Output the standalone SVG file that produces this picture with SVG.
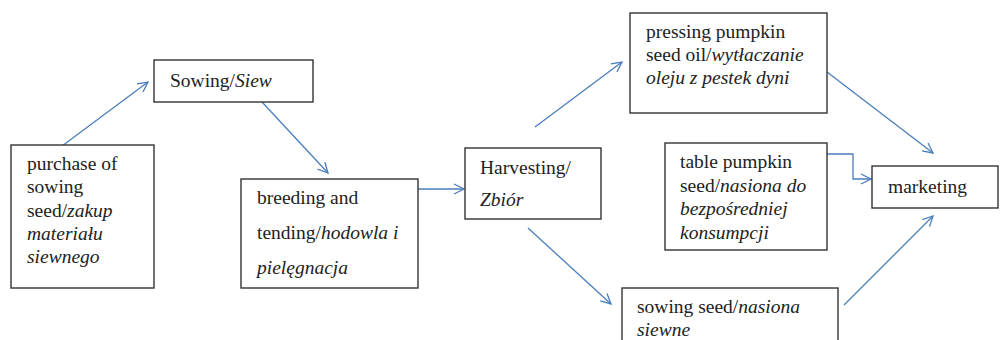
<svg xmlns="http://www.w3.org/2000/svg" width="1002" height="340" viewBox="0 0 1002 340">
<defs>
<marker id="ah" viewBox="0 0 12 12" refX="11" refY="6" markerWidth="12" markerHeight="12" markerUnits="userSpaceOnUse" orient="auto">
<path d="M1,1 L11,6 L1,11" fill="none" stroke="#4a7ebb" stroke-width="1.3"/>
</marker>
<style>
.box{fill:#fff;stroke:#333;stroke-width:1.4}
.t{font-family:'Liberation Serif','Times New Roman','DejaVu Serif',Times,serif;font-size:19.5px;fill:#222}
.i{font-style:italic}
.c{fill:none;stroke:#4a7ebb;stroke-width:1.3;marker-end:url(#ah)}
</style>
</defs>
<rect width="1002" height="340" fill="#fff"/>
<g id="connectors">
<line class="c" x1="62" y1="146" x2="148" y2="82"/>
<line class="c" x1="262" y1="102" x2="328" y2="173"/>
<line class="c" x1="418" y1="189" x2="464" y2="189"/>
<line class="c" x1="535" y1="127" x2="622" y2="62"/>
<line class="c" x1="528" y1="228" x2="611" y2="304"/>
<line class="c" x1="827" y1="72" x2="933" y2="153"/>
<polyline class="c" points="827,154 853,154 853,179 871,179"/>
<line class="c" x1="844" y1="305" x2="933" y2="216"/>
</g>
<g id="purchase">
<rect class="box" x="11" y="145" width="143" height="143"/>
<text class="t" font-family="Liberation Serif, serif" x="27" y="170">purchase of</text>
<text class="t" x="27" y="193">sowing</text>
<text class="t" x="27" y="217">seed/<tspan class="i">zakup</tspan></text>
<text class="t i" x="27" y="240">materiału</text>
<text class="t i" x="27" y="263">siewnego</text>
</g>
<g id="sowing">
<rect class="box" x="154" y="60" width="159" height="42"/>
<text class="t" x="170" y="87">Sowing/<tspan class="i">Siew</tspan></text>
</g>
<g id="breeding">
<rect class="box" x="241" y="179" width="177" height="109"/>
<text class="t" x="257" y="204">breeding and</text>
<text class="t" x="257" y="239">tending/<tspan class="i">hodowla i</tspan></text>
<text class="t i" x="257" y="274">pielęgnacja</text>
</g>
<g id="harvesting">
<rect class="box" x="465" y="148" width="136" height="71"/>
<text class="t" x="480" y="174">Harvesting/</text>
<text class="t i" x="480" y="206">Zbiór</text>
</g>
<g id="pressing">
<rect class="box" x="630" y="13" width="197" height="100"/>
<text class="t" x="646" y="38">pressing pumpkin</text>
<text class="t" x="646" y="61">seed oil/<tspan class="i">wytłaczanie</tspan></text>
<text class="t i" x="646" y="84">oleju z pestek dyni</text>
</g>
<g id="table">
<rect class="box" x="665" y="143" width="162" height="107"/>
<text class="t" x="680" y="168">table pumpkin</text>
<text class="t" x="680" y="192">seed/<tspan class="i">nasiona do</tspan></text>
<text class="t i" x="680" y="215">bezpośredniej</text>
<text class="t i" x="680" y="239">konsumpcji</text>
</g>
<g id="marketing">
<rect class="box" x="872" y="166" width="126" height="42"/>
<text class="t" x="888" y="193">marketing</text>
</g>
<g id="sowingseed">
<rect class="box" x="622" y="288" width="216" height="60"/>
<text class="t" x="637" y="313">sowing seed/<tspan class="i">nasiona</tspan></text>
<text class="t i" x="637" y="336">siewne</text>
</g>
</svg>
